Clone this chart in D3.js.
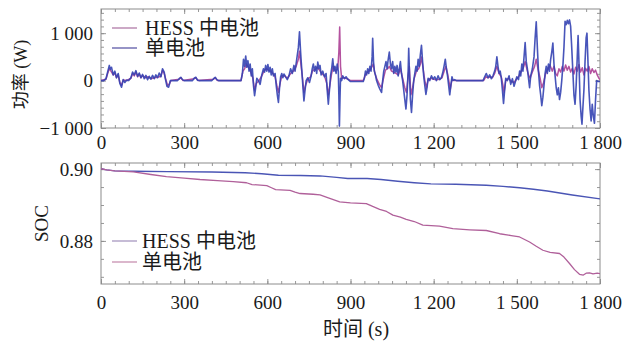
<!DOCTYPE html>
<html>
<head>
<meta charset="utf-8">
<script src="https://cdn.jsdelivr.net/npm/d3@7"></script>
<style>
  body { margin: 0; background: #fff; }
  svg { display: block; }
  text { font-family: "Liberation Serif", "Times New Roman", "Noto Sans CJK SC", serif; fill: #1a1a1a; }
</style>
</head>
<body>
<svg id="chart" width="633" height="342"></svg>
<script>
// time axis (s)
const timeTicks = [0, 300, 600, 900, 1200, 1500, 1800];
const powerTicks = [-1000, 0, 1000];
const socTicks = [0.88, 0.90];
const seriesNames = ["HESS 中电池", "单电池"];

// power of the battery inside the HESS, [t, W]
const hessPower = [
  [0,0],[18,30],[24,150],[30,250],[36,200],[44,120],[50,160],[56,60],[62,120],[68,-40],[74,-100],[80,10],[92,0],
  [108,50],[114,150],[120,100],[126,180],[132,80],[138,140],[144,60],[150,110],[160,60],[170,80],[180,40],[192,60],
  [204,70],[216,90],[222,220],[228,150],[234,20],[240,-100],[246,-80],[252,0],[282,30],[288,60],[296,0],[336,40],
  [342,60],[350,0],[406,30],[412,60],[420,0],[505,0],[512,200],[518,250],[524,350],[530,300],[536,250],[542,150],
  [548,50],[554,-200],[560,-60],[570,0],[580,100],[588,200],[596,250],[604,220],[612,200],[620,150],[628,80],
  [636,-150],[640,-250],[646,-60],[652,100],[662,100],[672,50],[684,150],[694,200],[704,300],[712,450],[716,620],
  [720,400],[726,100],[732,-250],[738,-100],[746,30],[756,80],[764,220],[772,230],[780,280],[788,220],[796,150],
  [806,100],[814,-50],[820,-300],[826,-80],[832,150],[838,300],[846,200],[854,250],[858,600],[861,1130],[864,300],
  [868,50],[876,60],[888,40],[900,0],[946,0],[954,120],[962,180],[970,220],[978,300],[982,350],[988,150],[996,20],
  [1004,-80],[1012,-150],[1018,20],[1026,220],[1034,250],[1040,300],[1048,200],[1056,180],[1064,150],[1072,120],
  [1080,250],[1088,50],[1096,-150],[1102,-250],[1108,100],[1112,300],[1118,-300],[1124,-150],[1130,50],[1138,200],
  [1146,250],[1152,350],[1156,500],[1162,250],[1168,0],[1174,-150],[1180,20],[1190,50],[1200,30],[1210,20],
  [1220,30],[1230,60],[1238,200],[1244,300],[1250,150],[1256,-50],[1260,-180],[1266,20],[1276,0],[1380,0],
  [1388,80],[1396,60],[1404,80],[1412,60],[1420,150],[1428,300],[1436,150],[1444,80],[1450,-100],[1454,-250],
  [1460,0],[1470,50],[1480,-20],[1490,-40],[1500,40],[1508,100],[1516,200],[1524,280],[1530,400],[1536,250],
  [1542,120],[1548,50],[1556,180],[1564,300],[1570,450],[1576,250],[1584,50],[1590,-150],[1596,-50],[1604,150],
  [1612,250],[1620,320],[1628,200],[1634,300],[1640,150],[1646,100],[1652,250],[1658,180],[1664,300],[1670,200],
  [1676,330],[1682,220],[1688,300],[1694,180],[1700,260],[1706,140],[1712,280],[1718,200],[1724,340],[1730,180],
  [1736,270],[1742,120],[1748,260],[1754,200],[1760,300],[1766,150],[1772,250],[1778,170],[1784,220],[1790,120],
  [1796,50],[1800,20]
];

// power of the single battery, [t, W]
const singlePower = [
  [0,0],[10,0],[18,40],[24,180],[30,320],[34,240],[38,280],[44,120],[50,200],[56,60],[62,150],[68,-60],[74,-140],
  [80,20],[86,-40],[92,10],[100,0],[108,60],[114,180],[120,120],[126,210],[132,90],[138,160],[144,60],[150,130],
  [156,40],[162,110],[168,20],[174,90],[180,30],[186,110],[192,40],[198,120],[204,60],[210,160],[216,80],[222,250],
  [228,180],[232,40],[238,-120],[244,-140],[250,0],[276,0],[282,40],[288,70],[294,20],[300,0],[330,0],[336,50],
  [342,70],[348,10],[354,0],[400,0],[406,40],[412,70],[418,20],[424,0],[505,0],[510,150],[514,450],[518,300],
  [522,520],[526,280],[530,420],[534,200],[538,350],[542,100],[546,250],[550,-100],[554,-320],[558,-150],[562,50],
  [568,0],[574,-80],[580,120],[586,250],[590,180],[594,320],[598,200],[602,340],[606,180],[610,280],[614,120],
  [618,250],[622,100],[628,150],[632,-100],[636,-300],[640,-460],[644,-150],[648,80],[652,150],[656,60],[660,140],
  [666,80],[672,20],[678,100],[684,250],[690,150],[696,320],[700,200],[706,450],[712,700],[716,1030],[720,600],
  [724,250],[728,-100],[732,-430],[736,-200],[740,0],[746,60],[752,-40],[758,100],[762,250],[766,350],[770,200],
  [774,300],[778,150],[782,390],[786,250],[790,320],[794,120],[800,200],[806,80],[812,150],[816,-200],[820,-500],
  [824,-200],[828,100],[832,250],[836,460],[840,200],[844,300],[848,150],[852,350],[856,200],[858,-300],[860,-960],
  [862,-400],[864,50],[868,0],[872,100],[878,40],[884,80],[890,30],[896,0],[900,-20],[946,-20],[950,50],[954,200],
  [958,120],[962,250],[966,150],[970,300],[974,200],[978,500],[980,890],[983,400],[986,200],[990,120],[994,0],
  [1000,-100],[1006,-180],[1012,-250],[1016,0],[1020,200],[1024,300],[1028,400],[1032,250],[1036,450],[1040,600],
  [1044,350],[1048,250],[1052,400],[1056,150],[1060,300],[1064,180],[1068,320],[1072,100],[1076,250],[1080,400],
  [1084,150],[1088,0],[1092,-200],[1096,-400],[1100,-600],[1104,-300],[1108,200],[1110,680],[1113,100],[1116,-400],
  [1120,-670],[1124,-300],[1128,0],[1132,150],[1136,300],[1140,200],[1144,450],[1148,300],[1152,550],[1156,745],
  [1160,400],[1164,100],[1168,-100],[1172,-290],[1176,-150],[1180,50],[1186,0],[1192,100],[1198,30],[1204,80],
  [1210,0],[1216,100],[1222,20],[1228,60],[1234,200],[1238,320],[1242,450],[1246,250],[1250,100],[1254,-100],
  [1258,-300],[1262,-100],[1266,80],[1270,0],[1276,20],[1282,0],[1378,0],[1384,80],[1390,150],[1396,60],
  [1402,120],[1408,40],[1414,100],[1420,200],[1424,300],[1428,500],[1432,300],[1436,150],[1440,200],[1444,50],
  [1448,-200],[1452,-480],[1456,-200],[1460,50],[1466,0],[1472,100],[1478,-80],[1484,40],[1490,-120],[1496,0],
  [1500,80],[1506,20],[1510,200],[1514,100],[1518,350],[1522,200],[1526,500],[1530,800],[1534,400],[1538,250],
  [1542,50],[1546,-150],[1550,100],[1556,250],[1562,500],[1566,900],[1570,1240],[1574,700],[1578,200],[1582,-100],
  [1586,-300],[1590,-530],[1594,-350],[1598,-100],[1602,150],[1606,300],[1610,150],[1614,350],[1618,200],
  [1622,450],[1626,600],[1630,790],[1634,350],[1638,100],[1642,-150],[1646,-300],[1650,-150],[1654,-400],
  [1658,-250],[1662,0],[1666,300],[1670,700],[1674,1250],[1678,1180],[1682,1270],[1686,1200],[1690,1280],
  [1694,1150],[1698,700],[1702,200],[1706,-300],[1710,-500],[1714,-100],[1718,500],[1721,950],[1724,400],
  [1728,-400],[1732,-750],[1735,-920],[1738,-600],[1742,-200],[1746,400],[1750,900],[1753,1000],[1756,500],
  [1760,-200],[1764,-600],[1768,-850],[1772,-500],[1776,-750],[1780,-900],[1784,-400],[1788,0],[1794,-20],[1800,-20]
];

// SOC of the battery inside the HESS, [t, SOC]
const hessSoc = [
  [0,0.9001],[20,0.8998],[50,0.8995],[120,0.8994],[240,0.8993],[400,0.8992],[520,0.8990],[580,0.8987],[640,0.8983],
  [720,0.8982],[790,0.8981],[850,0.8977],[890,0.8974],[960,0.8974],[1010,0.8971],[1070,0.8966],[1130,0.8962],
  [1190,0.8959],[1280,0.8958],[1390,0.8955],[1450,0.8952],[1510,0.8948],[1560,0.8944],[1610,0.8939],[1700,0.8928],
  [1800,0.8917]
];

// SOC of the single battery, [t, SOC]
const singleSoc = [
  [0,0.9001],[20,0.8998],[50,0.8995],[117,0.8992],[180,0.8985],[236,0.8979],[300,0.8975],[357,0.8971],[420,0.8968],
  [477,0.8965],[525,0.8962],[545,0.8957],[598,0.8954],[615,0.8948],[630,0.8943],[682,0.8941],[700,0.8936],
  [718,0.8932],[765,0.8930],[790,0.8928],[820,0.8920],[861,0.8909],[900,0.8906],[957,0.8904],[980,0.8896],
  [1005,0.8888],[1030,0.8882],[1053,0.8872],[1080,0.8866],[1101,0.8860],[1130,0.8854],[1161,0.8844],[1221,0.8841],
  [1269,0.8834],[1330,0.8831],[1390,0.8829],[1438,0.8820],[1480,0.8815],[1510,0.8811],[1546,0.8797],[1570,0.8785],
  [1594,0.8774],[1620,0.8768],[1654,0.8765],[1670,0.8755],[1690,0.8737],[1708,0.8720],[1726,0.8707],[1740,0.8705],
  [1750,0.8710],[1762,0.8711],[1775,0.8708],[1790,0.8710],[1800,0.8709]
];

const svg = d3.select("#chart");
svg.append("rect").attr("width", 633).attr("height", 342).attr("fill", "#fff");

const left = 101, right = 600;
const x = d3.scaleLinear().domain([0, 1800]).range([left, right]);
const locale = d3.formatLocale({ decimal: ".", thousands: " ", grouping: [3], currency: ["", ""], minus: "\u2212" });
const fmtInt = locale.format(",d");
const frameColor = "#8c8c8c";
const tickFont = 19;

function styleAxis(g) {
  g.select(".domain").remove();
  g.selectAll(".tick line").attr("stroke", frameColor).attr("stroke-width", 0.9);
  g.selectAll(".tick text").attr("font-size", tickFont).attr("font-family", null).attr("fill", "#1a1a1a");
}

function drawPanel(p) {
  const y = d3.scaleLinear().domain(p.yDomain).range([p.bottom, p.top]);
  const g = svg.append("g");
  const minorX = d3.range(0, 1801, 50);
  const minorY = p.yMinor;

  // minor ticks on the four sides
  g.append("g").attr("transform", `translate(0,${p.bottom})`)
    .call(d3.axisBottom(x).tickValues(minorX).tickSize(-3).tickFormat("")).call(styleAxis);
  g.append("g").attr("transform", `translate(0,${p.top})`)
    .call(d3.axisTop(x).tickValues(minorX).tickSize(-3).tickFormat("")).call(styleAxis);
  g.append("g").attr("transform", `translate(${left},0)`)
    .call(d3.axisLeft(y).tickValues(minorY).tickSize(-3).tickFormat("")).call(styleAxis);
  g.append("g").attr("transform", `translate(${right},0)`)
    .call(d3.axisRight(y).tickValues(minorY).tickSize(-3).tickFormat("")).call(styleAxis);

  // major ticks with labels
  g.append("g").attr("transform", `translate(0,${p.bottom})`)
    .call(d3.axisBottom(x).tickValues(timeTicks).tickSize(-5).tickPadding(p.xPad).tickFormat(fmtInt)).call(styleAxis);
  g.append("g").attr("transform", `translate(0,${p.top})`)
    .call(d3.axisTop(x).tickValues(timeTicks).tickSize(-5).tickFormat("")).call(styleAxis);
  g.append("g").attr("transform", `translate(${left},0)`)
    .call(d3.axisLeft(y).tickValues(p.yTicks).tickSize(-5).tickPadding(8).tickFormat(p.yFormat)).call(styleAxis);
  g.append("g").attr("transform", `translate(${right},0)`)
    .call(d3.axisRight(y).tickValues(p.yTicks).tickSize(-5).tickFormat("")).call(styleAxis);

  g.append("rect").attr("x", left).attr("y", p.top).attr("width", right - left).attr("height", p.bottom - p.top)
    .attr("fill", "none").attr("stroke", frameColor).attr("stroke-width", 1);

  const clipId = "clip" + p.top;
  svg.append("clipPath").attr("id", clipId).append("rect")
    .attr("x", left).attr("y", p.top).attr("width", right - left).attr("height", p.bottom - p.top);

  const line = d3.line().x(d => x(d[0])).y(d => y(d[1]));
  const lines = svg.append("g").attr("clip-path", `url(#${clipId})`);
  p.series.forEach(s => {
    lines.append("path").datum(s.data).attr("d", line).attr("fill", "none")
      .attr("stroke", s.color).attr("stroke-width", s.width).attr("stroke-opacity", s.opacity || 1)
      .attr("stroke-linejoin", "round");
  });

  // legend
  const lg = svg.append("g");
  p.legend.forEach((item, i) => {
    const ly = p.legendY + i * p.legendGap;
    lg.append("line").attr("x1", 112).attr("x2", 137).attr("y1", ly).attr("y2", ly)
      .attr("stroke", item.color).attr("stroke-width", 1.3);
    lg.append("text").attr("x", p.legendX).attr("y", ly).attr("dy", "0.35em")
      .attr("font-size", 20).text(item.name);
  });

  // y title
  svg.append("text").attr("transform", `translate(${p.titleX},${(p.top + p.bottom) / 2 + p.titleDy}) rotate(-90)`)
    .attr("text-anchor", "middle").attr("dy", "0.35em").attr("font-size", p.titleSize).text(p.yTitle);
  return y;
}

drawPanel({
  top: 9, bottom: 128, yDomain: [-1000, 1510],
  yTicks: powerTicks, yMinor: d3.range(-1000, 1501, 1000 / 7), yFormat: fmtInt, xPad: 8,
  yTitle: "功率 (W)", titleX: 21, titleDy: 6, titleSize: 18,
  series: [
    { data: hessPower, color: "#b4529f", width: 1.5 },
    { data: singlePower, color: "#3442b2", width: 1.6, opacity: 0.9 }
  ],
  legend: [
    { name: seriesNames[0], color: "#b07aa8" },
    { name: seriesNames[1], color: "#5e5aa8" }
  ],
  legendX: 145, legendY: 28, legendGap: 20
});

drawPanel({
  top: 163, bottom: 284, yDomain: [0.868, 0.9017],
  yTicks: socTicks, yMinor: d3.range(0.87, 0.9011, 0.005), yFormat: d3.format(".2f"), xPad: 12,
  yTitle: "SOC", titleX: 41, titleDy: 0, titleSize: 19,
  series: [
    { data: hessSoc, color: "#4a55b5", width: 1.4 },
    { data: singleSoc, color: "#b0609a", width: 1.3 }
  ],
  legend: [
    { name: seriesNames[0], color: "#a898c0" },
    { name: seriesNames[1], color: "#c890b0" }
  ],
  legendX: 142, legendY: 241, legendGap: 21
});

svg.append("text").attr("x", 356).attr("y", 329).attr("dy", "0.35em").attr("text-anchor", "middle")
  .attr("font-size", 20).text("时间 (s)");
</script>
</body>
</html>
